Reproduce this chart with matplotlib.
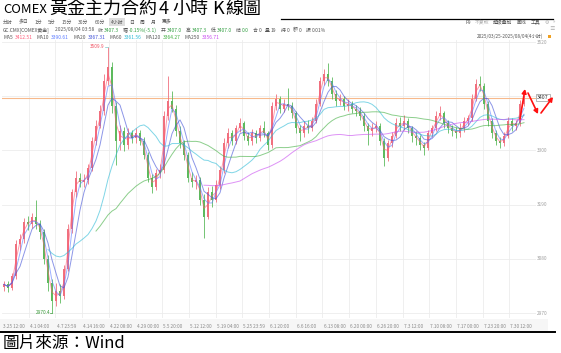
import numpy as np
import pandas as pd
import matplotlib
matplotlib.use('Agg')
import matplotlib.pyplot as plt
from matplotlib.lines import Line2D
from matplotlib.patches import Rectangle, FancyArrowPatch

plt.rcParams['font.family'] = ['Noto Sans CJK SC', 'DejaVu Sans']

opens = [3022, 3028, 3020, 3045, 3110, 3120, 3155, 3150, 3165, 3150,
         3135, 3080, 3030, 2995, 3015, 3005, 3060, 3140, 3215, 3245,
         3235, 3240, 3265, 3320, 3350, 3380, 3440, 3470, 3390, 3320,
         3340, 3310, 3335, 3325, 3335, 3320, 3290, 3245, 3225, 3255,
         3260, 3370, 3400, 3385, 3340, 3315, 3290, 3245, 3235, 3240,
         3200, 3165, 3215, 3200, 3230, 3260, 3315, 3335, 3320, 3345,
         3355, 3330, 3320, 3335, 3325, 3345, 3335, 3310, 3390, 3405,
         3385, 3395, 3390, 3375, 3345, 3335, 3350, 3345, 3360, 3395,
         3440, 3455, 3440, 3415, 3400, 3405, 3390, 3395, 3385, 3380,
         3370, 3350, 3340, 3345, 3350, 3320, 3285, 3315, 3330, 3355,
         3350, 3360, 3345, 3330, 3325, 3310, 3305, 3335, 3345, 3370,
         3375, 3355, 3345, 3340, 3335, 3345, 3360, 3365, 3405, 3435,
         3430, 3395, 3360, 3335, 3320, 3315, 3330, 3360, 3350, 3355,
         3395]
closes = [3028, 3020, 3045, 3110, 3120, 3155, 3150, 3165, 3150, 3135,
          3080, 3030, 2995, 3015, 3005, 3060, 3140, 3215, 3245, 3235,
          3240, 3265, 3320, 3350, 3380, 3440, 3470, 3390, 3320, 3340,
          3310, 3335, 3325, 3335, 3320, 3290, 3245, 3225, 3255, 3260,
          3370, 3400, 3385, 3340, 3315, 3290, 3245, 3235, 3240, 3200,
          3165, 3215, 3200, 3230, 3260, 3315, 3335, 3320, 3345, 3355,
          3330, 3320, 3335, 3325, 3345, 3335, 3310, 3390, 3405, 3385,
          3395, 3390, 3375, 3345, 3335, 3350, 3345, 3360, 3395, 3440,
          3455, 3440, 3415, 3400, 3405, 3390, 3395, 3385, 3380, 3370,
          3350, 3340, 3345, 3350, 3320, 3285, 3315, 3330, 3355, 3350,
          3360, 3345, 3330, 3325, 3310, 3305, 3335, 3345, 3370, 3375,
          3355, 3345, 3340, 3335, 3345, 3360, 3365, 3405, 3435, 3430,
          3395, 3360, 3335, 3320, 3315, 3330, 3360, 3350, 3355, 3395,
          3407.3]
highs = [3036, 3035, 3052, 3118, 3130, 3162, 3166, 3172, 3200, 3158,
         3140, 3088, 3040, 3030, 3028, 3068, 3150, 3222, 3258, 3255,
         3252, 3272, 3328, 3362, 3392, 3455, 3509.9, 3480, 3398, 3352,
         3348, 3345, 3342, 3346, 3342, 3328, 3296, 3252, 3262, 3272,
         3380, 3451, 3420, 3392, 3350, 3322, 3296, 3256, 3250, 3246,
         3212, 3225, 3228, 3240, 3268, 3325, 3345, 3342, 3352, 3365,
         3360, 3338, 3344, 3342, 3352, 3360, 3340, 3398, 3415, 3410,
         3405, 3427, 3398, 3380, 3352, 3360, 3362, 3368, 3405, 3450,
         3466, 3478, 3448, 3422, 3414, 3410, 3404, 3400, 3392, 3388,
         3375, 3356, 3355, 3360, 3356, 3326, 3322, 3338, 3365, 3368,
         3372, 3365, 3350, 3340, 3332, 3318, 3342, 3352, 3380, 3390,
         3380, 3362, 3352, 3348, 3355, 3368, 3372, 3415, 3445, 3451,
         3436, 3400, 3366, 3342, 3328, 3338, 3368, 3365, 3362, 3402,
         3412]
lows = [3015, 3012, 3016, 3040, 3098, 3112, 3138, 3142, 3140, 3120,
        3070, 3015, 2970.4, 2985, 2990, 2998, 3055, 3132, 3205, 3225,
        3226, 3232, 3258, 3312, 3345, 3372, 3432, 3375, 3270, 3300,
        3298, 3302, 3315, 3316, 3310, 3282, 3236, 3214, 3220, 3245,
        3255, 3362, 3378, 3330, 3305, 3280, 3236, 3225, 3222, 3190,
        3122, 3160, 3185, 3195, 3222, 3255, 3305, 3312, 3314, 3338,
        3322, 3310, 3312, 3316, 3320, 3328, 3300, 3305, 3382, 3376,
        3378, 3382, 3366, 3336, 3320, 3328, 3336, 3340, 3355, 3390,
        3432, 3430, 3405, 3390, 3392, 3382, 3380, 3376, 3370, 3362,
        3340, 3311, 3330, 3338, 3310, 3268, 3278, 3306, 3325, 3340,
        3342, 3336, 3318, 3312, 3300, 3290, 3300, 3328, 3340, 3362,
        3345, 3336, 3330, 3326, 3328, 3338, 3352, 3360, 3400, 3420,
        3385, 3350, 3325, 3310, 3305, 3308, 3325, 3340, 3342, 3350,
        3390]

date_labels = ['3.25 12:00', '4.1 04:00', '4.7 23:59', '4.14 16:00', '4.22 08:00',
               '4.29 00:00', '5.5 20:00', '5.12 12:00', '5.19 04:00', '5.25 23:59',
               '6.1 20:00', '6.6 16:00', '6.13 08:00', '6.20 00:00', '6.26 20:00',
               '7.3 12:00', '7.10 08:00', '7.17 00:00', '7.23 20:00', '7.30 12:00']
price_ticks = [2970, 3080, 3190, 3300, 3410, 3520]

ma_names = ['MA5', 'MA10', 'MA20', 'MA60', 'MA120', 'MA250']
ma_values = ['3412.51', '3390.61', '3367.31', '3361.56', '3364.27', '3356.71']
ma_windows = [2, 3, 5, 14, 29, 60]   # scaled to the condensed bars
ma_start = [0, 0, 0, 11, 23, 50]
ma_colors = ['#ff5a78', '#5b7bff', '#4050d8', '#2bbad6', '#3fae3f', '#c84af0']

toolbar = ['分时', '多日', '1分', '5分', '15分', '30分', '60分', '4小时', '日', '周', '月', '更多']
tools_right = ['F9', '不复权', '超级叠加', '画线', '工具', '⚙', '»']

last_price = 3407.3
high_point = 3509.9
low_point = 2970.4

W, H = 561, 353
up_color = '#f0707e'
down_color = '#5dba5d'
gray_txt = '#555555'
green_txt = '#2f9e3f'


def fx(x):
    return x / W


def fy(y):
    return 1 - y / H


fig = plt.figure(figsize=(W / 100, H / 100), dpi=100)
fig.patch.set_facecolor('white')
renderer = fig.canvas.get_renderer()


def chain(pieces, x0, y, fs):
    # lay small texts one after another, each piece = (text, colour, gap after in px)
    x = x0
    for txt, col, gap in pieces:
        t = fig.text(fx(x), fy(y), txt, fontsize=fs, color=col, ha='left', va='center')
        x += t.get_window_extent(renderer).width + gap
    return x


# date band under the chart
fig.add_artist(Rectangle((fx(0), fy(331)), fx(548), (331 - 319) / H,
                         transform=fig.transFigure, fc='#f6f6f6', ec='none', zorder=0))

ax = fig.add_axes([fx(2), fy(318), (536 - 2) / W, (318 - 40) / H])
ax.set_xlim(-0.5, 133.0)
ax.set_ylim(2959.9, 3524.1)
ax.set_facecolor('white')
for s in ax.spines.values():
    s.set_visible(False)
ax.set_xticks([])
ax.set_yticks([])

grid_pos = np.arange(len(date_labels)) * 6.675 - 0.5
for g in grid_pos[1:]:
    ax.axvline(g, color='#ececec', lw=0.6, zorder=1)
for p in price_ticks:
    ax.axhline(p, color='#ececec', lw=0.6, zorder=1)
ax.axhline(last_price, color='#f7b98c', lw=0.8, zorder=2)

# candles
idx = np.arange(len(closes))
o = np.array(opens, dtype=float)
c = np.array(closes, dtype=float)
h = np.array(highs, dtype=float)
l = np.array(lows, dtype=float)
cols = np.where(c >= o, up_color, down_color)
ax.vlines(idx, l, h, colors=cols, lw=0.6, zorder=3)
ax.bar(idx, np.maximum(np.abs(c - o), 1.5), bottom=np.minimum(o, c), width=0.5,
       color=cols, lw=0, zorder=3)

# moving averages
cs = pd.Series(closes, dtype=float)
for w, st, col in zip(ma_windows, ma_start, ma_colors):
    ma = cs.rolling(w, min_periods=1).mean()
    ma[:st] = np.nan
    ax.plot(idx, ma, color=col, lw=0.7, alpha=0.6, zorder=4)

# high / low markers
hi_i = int(np.argmax(h))
lo_i = int(np.argmin(l))
ax.plot([hi_i - 0.8, hi_i], [high_point, high_point], color='#7fc8c8', lw=0.5, zorder=5)
ax.text(hi_i - 0.85, high_point, f'{high_point}', color='#f05060', fontsize=3.4,
        ha='right', va='center', zorder=5)
ax.plot([lo_i - 0.4, lo_i], [low_point, low_point], color='#3a9a3a', lw=0.5, zorder=5)
ax.text(lo_i - 0.45, low_point, f'{low_point}', color='#3a9a3a', fontsize=3.4,
        ha='right', va='center', zorder=5)

# right axis labels
for p in price_ticks:
    ax.text(133.25, p, str(p), fontsize=3.4, color='#a0a0a0', ha='left', va='center',
            clip_on=False)
ax.text(133.3, last_price, f'{int(last_price)}', fontsize=3.8, color='#333333',
        ha='left', va='center', clip_on=False, zorder=10,
        bbox=dict(boxstyle='square,pad=0.25', fc='white', ec='#9a9a9a', lw=0.5))

# date labels
for g, lab in zip(grid_pos, date_labels):
    ax.text(g + 0.3, -0.029, lab, transform=ax.get_xaxis_transform(), fontsize=3.4,
            color='#8a8a8a', ha='left', va='center', clip_on=False)

# title
title_fam = ['Noto Sans CJK TC', 'DejaVu Sans']
fig.text(fx(3), fy(9.5), 'COMEX', fontsize=9.4, family=title_fam,
         ha='left', va='center', color='black')
for txt, x in [('黃金主力合約', 49), ('4', 159), ('小時', 172), ('K', 212), ('線圖', 225)]:
    fig.text(fx(x), fy(9), txt, fontsize=13, family=title_fam,
             ha='left', va='center', color='black')
fig.add_artist(Line2D([fx(281), fx(553)], [fy(19), fy(19)], color='black', lw=0.9))

# toolbar
x = 3
for item in toolbar:
    kw = {}
    if item == '4小时':
        kw['bbox'] = dict(boxstyle='square,pad=0.3', fc='#dedede', ec='none')
    t = fig.text(fx(x), fy(22), item, fontsize=3.5, color=gray_txt, ha='left', va='center', **kw)
    x += t.get_window_extent(renderer).width + 6
x = 555
for item in reversed(tools_right):
    col = '#aaaaaa' if item in ('不复权', '⚙', '»') else gray_txt
    t = fig.text(fx(x), fy(22), item, fontsize=3.5, color=col, ha='right', va='center')
    x -= t.get_window_extent(renderer).width + 4
fig.text(fx(549), fy(29), '≡', fontsize=4, color='#aaaaaa', ha='left', va='center')

# quote line
chain([('GC.CMX[COMEX黄金]', gray_txt, 5), ('2025/08/04 03:58', gray_txt, 4),
       ('收', gray_txt, 1), ('3407.3', green_txt, 4), ('幅', gray_txt, 1),
       ('-0.15%(-5.1)', green_txt, 4), ('开', gray_txt, 1), ('3407.0', green_txt, 4),
       ('高', gray_txt, 1), ('3407.3', green_txt, 4), ('低', gray_txt, 1),
       ('3407.0', green_txt, 4), ('结', gray_txt, 1), ('0.0', green_txt, 4),
       ('合', gray_txt, 1), ('0', gray_txt, 4), ('量', gray_txt, 1), ('19', gray_txt, 4),
       ('持', gray_txt, 1), ('0', gray_txt, 4), ('额', gray_txt, 1), ('0', gray_txt, 4),
       ('振', gray_txt, 1), ('0.01%', gray_txt, 0)], 3, 30, 3.5)

# MA legend line
pieces = []
for name, val, col in zip(ma_names, ma_values, ma_colors):
    pieces += [(name, gray_txt, 2), (val, col, 4)]
chain(pieces, 3, 37.5, 3.5)

fig.text(fx(543), fy(36), '2025/03/25-2025/08/04(4小时)', fontsize=3.4, color=gray_txt,
         ha='right', va='center')
fig.add_artist(Rectangle((fx(548), fy(38)), 3 / W, 3 / H, transform=fig.transFigure,
                         fc='#f0a020', ec='none'))

# hand-drawn red arrows
for (x0, y0), (x1, y1) in [((520, 119), (525, 89)), ((528, 93), (538, 114)),
                           ((541, 113), (553, 97))]:
    fig.add_artist(FancyArrowPatch(
        (fx(x0), fy(y0)), (fx(x1), fy(y1)), transform=fig.transFigure,
        arrowstyle='-|>,head_length=2.4,head_width=1.3', color='#ff1010', lw=1.2,
        shrinkA=0, shrinkB=0, zorder=20))

# bottom rule and source
fig.add_artist(Line2D([fx(0), fx(555)], [fy(331.5), fy(331.5)], color='black', lw=1.4))
fig.text(fx(3), fy(343), '圖片來源：Wind', fontsize=12,
         family=['Noto Sans CJK TC', 'DejaVu Sans'], ha='left', va='center', color='black')

fig.savefig('out.png', dpi=100, facecolor='white')
